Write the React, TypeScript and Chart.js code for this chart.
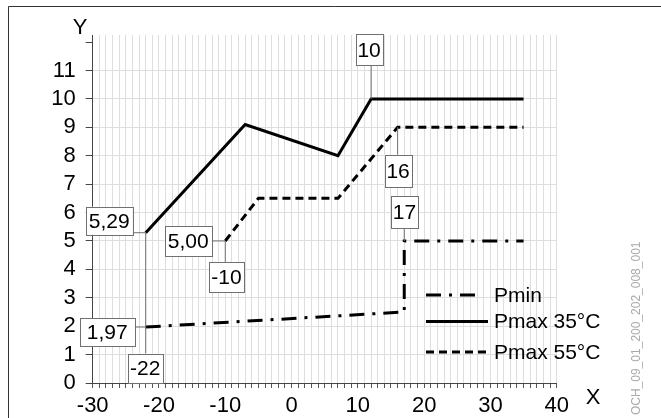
import React, { useEffect, useRef } from 'react';
import { Chart, ChartConfiguration, Plugin, registerables } from 'chart.js';

Chart.register(...registerables);

// values
const xTickLabels = [-30, -20, -10, 0, 10, 20, 30, 40];
const yTickLabels = [0, 1, 2, 3, 4, 5, 6, 7, 8, 9, 10, 11];

const pminX = [-22, 17, 17, 35];
const pminY = [1.97, 2.5, 5, 5];

const pmax35X = [-22, -7, 7, 12, 35];
const pmax35Y = [5.29, 9.1, 8, 10, 10];

const pmax55X = [-10, -5, 7, 16, 35];
const pmax55Y = [5, 6.5, 6.5, 9, 9];

const seriesNames = ['Pmin', 'Pmax 35°C', 'Pmax 55°C'];
const docCode = 'OCH_09_01_200_202_008_001';

const FONT = "'Liberation Sans', Arial, sans-serif";
const GRID = '#dedede';
const AXIS = '#444';
const BOX = '#707070';

const dashes: number[][] = [[15, 8, 3, 8], [], [8, 5]];

const toPoints = (xs: number[], ys: number[]) => xs.map((x, i) => ({ x, y: ys[i] }));
const comma = (v: number) => v.toFixed(2).replace('.', ',');

type Note = { text: string; x: number; y: number; dx: number; dy: number; w: number; h: number; dir: 'h' | 'v' };

const notes: Note[] = [
    { text: comma(pmax35Y[0]), x: pmax35X[0], y: pmax35Y[0], dx: -36.5, dy: -12, w: 47, h: 28, dir: 'h' },
    { text: String(pmax35X[0]), x: pmax35X[0], y: pmax35Y[0], dx: -0.5, dy: 135.5, w: 35, h: 29, dir: 'v' },
    { text: comma(pminY[0]), x: pminX[0], y: pminY[0], dx: -38.5, dy: 5, w: 55, h: 28, dir: 'h' },
    { text: comma(pmax55Y[0]), x: pmax55X[0], y: pmax55Y[0], dx: -37, dy: 0, w: 47, h: 30, dir: 'h' },
    { text: String(pmax55X[0]), x: pmax55X[0], y: pmax55Y[0], dx: 1.2, dy: 36, w: 35, h: 30, dir: 'v' },
    { text: String(pmax35Y[3]), x: pmax35X[3], y: pmax35Y[3], dx: -2, dy: -49, w: 27, h: 31, dir: 'v' },
    { text: String(pmax55X[3]), x: pmax55X[3], y: pmax55Y[3], dx: 0.5, dy: 43.5, w: 27, h: 32, dir: 'v' },
    { text: String(pminX[2]), x: pminX[2], y: pminY[2], dx: 0.3, dy: -29, w: 27, h: 32, dir: 'v' },
];

const legendRows = [295, 321.5, 352];
const legendLineEnd = [478, 488, 488];

const overlay: Plugin<'line'> = {
    id: 'overlay',
    afterDraw(chart) {
        const ctx = chart.ctx;
        const xs = chart.scales.x;
        const ys = chart.scales.y;
        ctx.save();

        // frame (only the top and left edges are inside the picture)
        ctx.strokeStyle = '#333';
        ctx.lineWidth = 1;
        ctx.beginPath();
        ctx.moveTo(8.5, 418);
        ctx.lineTo(8.5, 6.5);
        ctx.lineTo(661, 6.5);
        ctx.stroke();

        // callouts
        ctx.font = `21px ${FONT}`;
        ctx.textAlign = 'center';
        ctx.textBaseline = 'middle';
        notes.forEach(n => {
            const px = xs.getPixelForValue(n.x);
            const py = ys.getPixelForValue(n.y);
            const cx = px + n.dx;
            const cy = py + n.dy;
            const left = cx - n.w / 2;
            const top = cy - n.h / 2;
            ctx.strokeStyle = BOX;
            ctx.lineWidth = 1;
            ctx.setLineDash([]);
            ctx.beginPath();
            if (n.dir === 'h') {
                ctx.moveTo(px, py);
                ctx.lineTo(n.dx < 0 ? left + n.w : left, py);
            } else {
                ctx.moveTo(px, py);
                ctx.lineTo(px, n.dy < 0 ? top + n.h : top);
            }
            ctx.stroke();
            ctx.fillStyle = '#fff';
            ctx.fillRect(left, top, n.w, n.h);
            ctx.strokeRect(Math.round(left) + 0.5, Math.round(top) + 0.5, Math.round(n.w), Math.round(n.h));
            ctx.fillStyle = '#000';
            ctx.fillText(n.text, cx, cy + 1);
        });

        // legend
        ctx.textAlign = 'left';
        seriesNames.forEach((name, i) => {
            const y = legendRows[i];
            ctx.strokeStyle = '#000';
            ctx.lineWidth = 3;
            ctx.setLineDash(dashes[i]);
            ctx.beginPath();
            ctx.moveTo(426, y);
            ctx.lineTo(legendLineEnd[i], y);
            ctx.stroke();
            ctx.fillStyle = '#000';
            ctx.fillText(name, 494, y + 1);
        });
        ctx.setLineDash([]);

        // axis names
        ctx.textAlign = 'center';
        ctx.font = `22px ${FONT}`;
        ctx.fillText('Y', 80, 28);
        ctx.fillText('X', 593, 398);

        // document code, vertical
        ctx.translate(637, 415);
        ctx.rotate(-Math.PI / 2);
        ctx.textAlign = 'left';
        ctx.font = `12px ${FONT}`;
        ctx.fillStyle = '#aaa';
        ctx.fillText(docCode, 0, 0);

        ctx.restore();
    },
};

const App: React.FC = () => {
    const canvasRef = useRef<HTMLCanvasElement>(null);

    useEffect(() => {
        if (!canvasRef.current) return;
        const ctx = canvasRef.current.getContext('2d');
        if (!ctx) return;

        const series = [toPoints(pminX, pminY), toPoints(pmax35X, pmax35Y), toPoints(pmax55X, pmax55Y)];

        const config: ChartConfiguration<'line'> = {
            type: 'line',
            data: {
                datasets: series.map((data, i) => ({
                    label: seriesNames[i],
                    data,
                    borderColor: '#000',
                    borderWidth: 3,
                    borderDash: dashes[i],
                    pointRadius: 0,
                    tension: 0,
                    fill: false,
                })),
            },
            options: {
                responsive: true,
                maintainAspectRatio: false,
                animation: false,
                events: [],
                layout: { padding: { left: 0, top: 35, right: 104.3, bottom: 0 } },
                scales: {
                    x: {
                        type: 'linear',
                        min: -30,
                        max: 40,
                        afterFit: (s) => { s.height = 35; },
                        border: { color: AXIS, width: 1 },
                        grid: { color: GRID, tickColor: '#555', tickLength: 5 },
                        ticks: {
                            stepSize: 1,
                            autoSkip: false,
                            maxRotation: 0,
                            padding: 5,
                            color: '#000',
                            font: { family: FONT, size: 22 },
                            callback: (v) => (xTickLabels.includes(Number(v)) ? String(v) : ''),
                        },
                    },
                    y: {
                        type: 'linear',
                        min: 0,
                        max: 12.25,
                        afterFit: (s) => { s.width = 92.7; },
                        border: { color: AXIS, width: 1 },
                        grid: {
                            color: (c) => (yTickLabels.includes(c.tick?.value) ? GRID : 'rgba(0,0,0,0)'),
                            tickColor: AXIS,
                            tickLength: 7,
                        },
                        ticks: {
                            stepSize: 1,
                            includeBounds: false,
                            autoSkip: false,
                            padding: 10,
                            color: '#000',
                            font: { family: FONT, size: 22 },
                            callback: (v) => (yTickLabels.includes(Number(v)) ? String(v) : ''),
                        },
                    },
                },
                plugins: {
                    legend: { display: false },
                    tooltip: { enabled: false },
                },
            },
            plugins: [overlay],
        };

        const chart = new Chart(ctx, config);
        return () => chart.destroy();
    }, []);

    return (
        <div style={{ position: 'fixed', left: 0, top: 0, width: 661, height: 418, background: '#fff' }}>
            <canvas ref={canvasRef} />
        </div>
    );
};

export default App;
